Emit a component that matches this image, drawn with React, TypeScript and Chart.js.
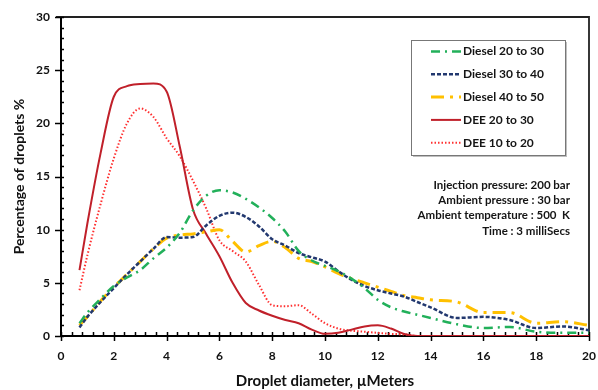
import { useEffect, useRef } from "react";
import { Chart, registerables } from "chart.js";

Chart.register(...registerables);

const X_VALUES = [0.7, 1, 1.5, 2, 2.5, 3, 3.5, 4, 4.5, 5, 5.5, 6, 6.5, 7, 7.5, 8, 8.5, 9, 9.5, 10, 10.5, 11, 11.5, 12, 12.5, 13, 13.5, 14, 15, 16, 17, 18, 19, 20];

const DIESEL_20_30 = [1.2, 2.2, 3.5, 4.7, 5.5, 6.2, 7.3, 8.3, 9.7, 11.8, 13.2, 13.7, 13.5, 12.9, 12.1, 11.1, 9.8, 8.0, 7.1, 6.6, 6.1, 5.4, 4.5, 3.4, 2.7, 2.3, 2.0, 1.7, 1.1, 0.75, 0.85, 0.4, 0.3, 0.3];
const DIESEL_30_40 = [0.8, 1.8, 3.2, 4.5, 5.8, 7.0, 8.2, 9.3, 9.25, 9.3, 10.4, 11.3, 11.6, 11.2, 10.3, 9.1, 8.5, 7.8, 7.4, 7.0, 6.1, 5.3, 4.7, 4.3, 4.0, 3.7, 3.2, 2.7, 1.7, 1.8, 1.5, 0.75, 0.9, 0.55];
const DIESEL_40_50 = [1.0, 1.8, 3.3, 4.6, 5.8, 7.0, 8.2, 9.2, 9.5, 9.6, 9.8, 10.0, 8.9, 7.9, 8.5, 8.9, 8.3, 7.3, 7.0, 6.5, 5.9, 5.4, 5.0, 4.6, 4.2, 3.8, 3.6, 3.4, 3.2, 2.2, 2.2, 1.2, 1.35, 1.0];
const DEE_20_30 = [6.2, 10.6, 17.2, 22.5, 23.5, 23.7, 23.75, 23.0, 17.8, 11.9, 9.6, 7.5, 5.0, 3.1, 2.4, 1.9, 1.5, 1.2, 0.6, 0.2, 0.3, 0.6, 0.9, 1.0, 0.7, 0.2, 0, 0, 0, 0, 0, 0, 0, 0];
const DEE_10_20 = [4.3, 7.6, 12.4, 16.7, 20.0, 21.4, 20.6, 18.6, 16.9, 14.6, 12.0, 9.0, 8.0, 7.0, 4.8, 2.9, 2.8, 2.9, 2.1, 1.2, 0.7, 0.5, 0.4, 0.3, 0.2, 0.15, 0, 0, 0, 0, 0, 0, 0, 0];

const SERIES_LABELS = ["Diesel 20 to 30", "Diesel 30 to 40", "Diesel 40 to 50", "DEE 20 to 30", "DEE 10 to 20"];
const ANNOTATION_LINES = ["Injection pressure: 200 bar", "Ambient pressure : 30 bar", "Ambient temperature : 500  K", "Time : 3 milliSecs"];

const X_MIN = 0, X_MAX = 20, X_STEP = 2, X_MINOR = 0.4;
const Y_MIN = 0, Y_MAX = 30, Y_STEP = 5, Y_MINOR = 1;

const FONT = "Lato, 'Open Sans', sans-serif";

const STYLES = [
  { color: "#22b05a", width: 2.5, dash: [9, 5, 2, 5] },
  { color: "#22386f", width: 2.5, dash: [4, 2] },
  { color: "#ffc000", width: 3, dash: [13, 6, 3, 6] },
  { color: "#c0202a", width: 2, dash: [] as number[] },
  { color: "#ff3030", width: 2, dash: [1.5, 2] },
];

const SERIES = [DIESEL_20_30, DIESEL_30_40, DIESEL_40_50, DEE_20_30, DEE_10_20];

const decorPlugin = {
  id: "decor",
  beforeDatasetsDraw(chart: any) {
    const { ctx, chartArea: a, scales } = chart;
    const xs = scales.x, ys = scales.y;
    ctx.save();
    ctx.strokeStyle = "#222";
    ctx.lineWidth = 1.8;
    ctx.beginPath();
    ctx.moveTo(a.left - 5, a.top);
    ctx.lineTo(a.right, a.top);
    ctx.lineTo(a.right, a.bottom);
    ctx.stroke();
    ctx.strokeStyle = "#000";
    ctx.lineWidth = 1.5;
    const nx = Math.round((X_MAX - X_MIN) / X_MINOR);
    const perMajorX = Math.round(X_STEP / X_MINOR);
    for (let i = 0; i <= nx; i++) {
      const px = Math.round(xs.getPixelForValue(X_MIN + i * X_MINOR)) + 0.5;
      const major = i % perMajorX === 0;
      ctx.beginPath();
      ctx.moveTo(px, a.bottom - 4);
      ctx.lineTo(px, a.bottom + (major ? 5 : 0));
      ctx.stroke();
    }
    const ny = Math.round((Y_MAX - Y_MIN) / Y_MINOR);
    const perMajorY = Math.round(Y_STEP / Y_MINOR);
    for (let i = 0; i <= ny; i++) {
      const py = Math.round(ys.getPixelForValue(Y_MIN + i * Y_MINOR)) + 0.5;
      const major = i % perMajorY === 0;
      ctx.beginPath();
      ctx.moveTo(a.left - (major ? 6 : 0), py);
      ctx.lineTo(a.left + 3, py);
      ctx.stroke();
    }
    ctx.restore();
  },
  afterDraw(chart: any) {
    const { ctx, chartArea: a } = chart;
    ctx.save();
    const bx = a.right - 178, by = a.top + 23, bw = 154, bh = 115;
    ctx.fillStyle = "rgba(0,0,0,0.25)";
    ctx.fillRect(bx + 2, by + 2, bw, bh);
    ctx.fillStyle = "#fff";
    ctx.fillRect(bx, by, bw, bh);
    ctx.strokeStyle = "#777";
    ctx.lineWidth = 1;
    ctx.strokeRect(bx + 0.5, by + 0.5, bw, bh);
    chart.data.datasets.forEach((ds: any, i: number) => {
      const ry = by + 11.5 + i * 22.8;
      ctx.strokeStyle = ds.borderColor;
      ctx.lineWidth = ds.borderWidth;
      ctx.setLineDash(ds.borderDash || []);
      ctx.beginPath();
      ctx.moveTo(bx + 20, ry);
      ctx.lineTo(bx + 50, ry);
      ctx.stroke();
      ctx.setLineDash([]);
      ctx.fillStyle = "#151515";
      ctx.font = `bold 12px ${FONT}`;
      ctx.textAlign = "left";
      ctx.textBaseline = "middle";
      ctx.fillText(ds.label, bx + 52, ry);
    });
    ctx.fillStyle = "#151515";
    ctx.font = `bold 11.5px ${FONT}`;
    ctx.textAlign = "right";
    ctx.textBaseline = "middle";
    ANNOTATION_LINES.forEach((t, i) => {
      ctx.fillText(t, a.right - 19, a.top + 168 + i * 15.3);
    });
    ctx.restore();
  },
};

export default function App() {
  const ref = useRef<HTMLCanvasElement>(null);
  useEffect(() => {
    if (!ref.current) return;
    const chart = new Chart(ref.current, {
      type: "line",
      data: {
        datasets: SERIES.map((vals, i) => ({
          label: SERIES_LABELS[i],
          data: X_VALUES.map((x, j) => ({ x, y: vals[j] })),
          borderColor: STYLES[i].color,
          backgroundColor: STYLES[i].color,
          borderWidth: STYLES[i].width,
          borderDash: STYLES[i].dash,
          pointRadius: 0,
          tension: 0.4,
          cubicInterpolationMode: "monotone" as const,
          fill: false,
        })),
      },
      options: {
        animation: false,
        responsive: true,
        maintainAspectRatio: false,
        layout: { padding: { top: 17, right: 9, left: 0, bottom: 0 } },
        plugins: { legend: { display: false }, tooltip: { enabled: false } },
        scales: {
          x: {
            type: "linear",
            min: X_MIN,
            max: X_MAX,
            ticks: { stepSize: X_STEP, color: "#111", font: { family: FONT, size: 12, weight: "bold" }, padding: 13, maxRotation: 0 },
            grid: { display: false, drawTicks: false },
            border: { display: true, color: "#000", width: 2 },
            title: { display: true, text: "Droplet diameter, µMeters", color: "#111", font: { family: FONT, size: 15, weight: "bold" }, padding: { top: 0, bottom: 0 } },
            afterFit: (s: any) => { s.height = 54; s.paddingRight = 0; s.paddingLeft = 0; },
          },
          y: {
            min: Y_MIN,
            max: Y_MAX,
            ticks: { stepSize: Y_STEP, color: "#111", font: { family: FONT, size: 12, weight: "bold" }, padding: 11 },
            grid: { display: false, drawTicks: false },
            border: { display: true, color: "#000", width: 2 },
            title: { display: true, text: "Percentage of droplets %", color: "#111", font: { family: FONT, size: 14, weight: "bold" }, padding: { top: 11, bottom: 0 } },
            afterFit: (s: any) => { s.width = 61; s.paddingTop = 0; s.paddingBottom = 0; },
          },
        },
      },
      plugins: [decorPlugin],
    });
    return () => chart.destroy();
  }, []);
  return (
    <div style={{ position: "absolute", left: 0, top: 0, width: 598, height: 390, background: "#fff" }}>
      <canvas ref={ref} />
    </div>
  );
}
